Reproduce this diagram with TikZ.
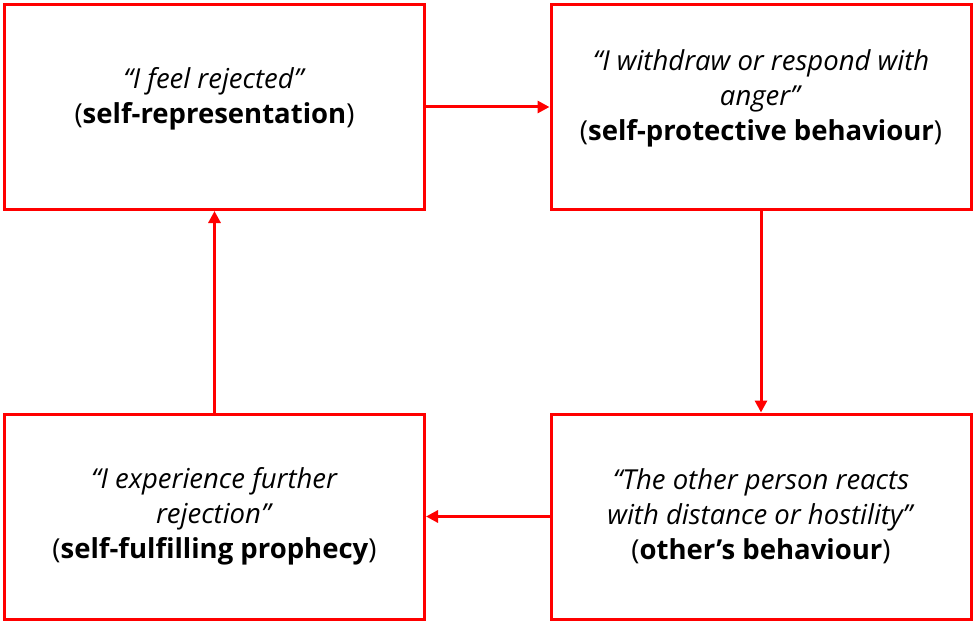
\documentclass[tikz,border=0pt]{standalone}
\usepackage{fontspec}
\setmainfont{Open Sans}
\usetikzlibrary{arrows.meta}
\definecolor{boxred}{RGB}{255,0,0}
\tikzset{
  stagebox/.style={draw=boxred, line width=3pt, minimum width=420pt, minimum height=205pt,
    inner sep=0pt, align=center, font=\fontsize{27.5}{35}\selectfont},
  flow/.style={draw=boxred, line width=3pt, -{Triangle[length=12pt,width=12pt]}}
}
\begin{document}
\begin{tikzpicture}[x=1pt,y=-1pt]
\useasboundingbox (0,0) rectangle (975,623);
\node[stagebox] (tl) at (214.5,107) {\textit{“I feel rejected”}\\(\textbf{self-representation})\\[-11pt]};
\node[stagebox] (tr) at (761,107) {\textit{“I withdraw or respond with}\\\textit{anger”}\\(\textbf{self-protective behaviour})\\[-11pt]};
\node[stagebox] (bl) at (214.5,516.5) {\textit{“I experience further}\\\textit{rejection”}\\(\textbf{self-fulfilling prophecy})};
\node[stagebox] (br) at (761,516.5) {\textit{“The other person reacts}\\\textit{with distance or hostility”}\\(\textbf{other’s behaviour})};
\draw[flow] (tl.east) -- (tr.west);
\draw[flow] (tr.south) -- (br.north);
\draw[flow] (br.west) -- (bl.east);
\draw[flow] (bl.north) -- (tl.south);
\end{tikzpicture}
\end{document}
